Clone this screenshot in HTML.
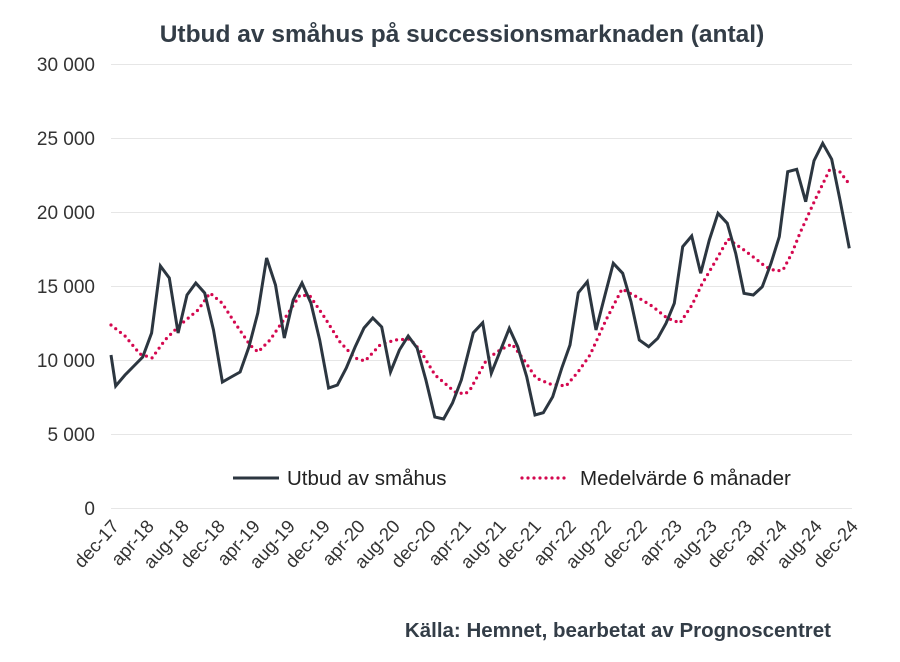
<!DOCTYPE html>
<html><head><meta charset="utf-8"><style>
body{margin:0;background:#fff;font-family:"Liberation Sans",Arial,sans-serif;}
svg text{font-family:"Liberation Sans",Arial,sans-serif;}
</style></head><body>
<svg width="900" height="657" viewBox="0 0 900 657" xmlns="http://www.w3.org/2000/svg">
<rect width="900" height="657" fill="#fff"/>
<text x="462" y="42" text-anchor="middle" font-size="24.5" font-weight="bold" fill="#333d47">Utbud av småhus på successionsmarknaden (antal)</text>
<g stroke="#e6e6e6" stroke-width="1">
<line x1="111" x2="852" y1="64.5" y2="64.5"/><line x1="111" x2="852" y1="138.5" y2="138.5"/><line x1="111" x2="852" y1="212.5" y2="212.5"/><line x1="111" x2="852" y1="286.5" y2="286.5"/><line x1="111" x2="852" y1="360.5" y2="360.5"/><line x1="111" x2="852" y1="434.5" y2="434.5"/><line x1="111" x2="852" y1="508.5" y2="508.5"/>
</g>
<g font-size="19" fill="#333" text-anchor="end">
<text x="95" y="71">30 000</text><text x="95" y="145">25 000</text><text x="95" y="219">20 000</text><text x="95" y="293">15 000</text><text x="95" y="367">10 000</text><text x="95" y="441">5 000</text><text x="95" y="515">0</text>
</g>
<g font-size="18.5" fill="#333" text-anchor="end">
<text transform="translate(120,527) rotate(-48)">dec-17</text>
<text transform="translate(155,527) rotate(-48)">apr-18</text>
<text transform="translate(190,527) rotate(-48)">aug-18</text>
<text transform="translate(226,527) rotate(-48)">dec-18</text>
<text transform="translate(261,527) rotate(-48)">apr-19</text>
<text transform="translate(296,527) rotate(-48)">aug-19</text>
<text transform="translate(331,527) rotate(-48)">dec-19</text>
<text transform="translate(366,527) rotate(-48)">apr-20</text>
<text transform="translate(401,527) rotate(-48)">aug-20</text>
<text transform="translate(437,527) rotate(-48)">dec-20</text>
<text transform="translate(472,527) rotate(-48)">apr-21</text>
<text transform="translate(507,527) rotate(-48)">aug-21</text>
<text transform="translate(542,527) rotate(-48)">dec-21</text>
<text transform="translate(577,527) rotate(-48)">apr-22</text>
<text transform="translate(612,527) rotate(-48)">aug-22</text>
<text transform="translate(648,527) rotate(-48)">dec-22</text>
<text transform="translate(683,527) rotate(-48)">apr-23</text>
<text transform="translate(718,527) rotate(-48)">aug-23</text>
<text transform="translate(753,527) rotate(-48)">dec-23</text>
<text transform="translate(788,527) rotate(-48)">apr-24</text>
<text transform="translate(823,527) rotate(-48)">aug-24</text>
<text transform="translate(859,527) rotate(-48)">dec-24</text>
</g>
<polyline fill="none" stroke="#d4084f" stroke-width="3.2" stroke-linecap="round" stroke-dasharray="0 6" points="111,325 125,336 140,354 152,358 165,340 180,325 198,310 210,293 222,303 235,323 250,345 258,352 270,340 285,318 300,295 310,296 325,318 340,342 355,358 365,361 380,345 395,340 410,339 420,350 435,375 455,392 465,394 470,390 487,359 500,350 512,344 524,360 536,378 550,384 566,386 578,372 590,355 606,320 622,289 637,297 652,306 667,318 680,323 692,305 702,284 715,262 728,239 744,250 756,259 766,267 776,271 783,270 792,253 800,233 815,200 830,169 840,172 850,185"/>
<polyline fill="none" stroke="#2c3640" stroke-width="3" stroke-linejoin="miter" points="111,355 115.7,386 125,375 133.9,366 142.7,357 151.6,333 160.4,266 169.3,278 178.1,333 187,295 195.8,283 204.7,293 213.5,330 222.4,382 231.2,377 240.1,372 248.9,347 257.8,313 266.6,258 275.5,285 284.3,338 293.2,300 302,283 310.9,303 319.7,340 328.6,388 337.4,385 346.3,368 355.1,347 364,328 372.8,318 381.7,327 390.5,372 399.4,350 408.2,336 417.1,348 425.9,380 434.8,417 443.6,419 452.5,403 461.3,380 473.3,332.7 482.7,322.7 491.3,373.3 509.3,328.3 517.7,346.7 526.7,376.7 535,415 543.3,412.7 552.7,396.7 561.7,368.3 570,345 578.3,292.7 587.3,281.7 596,330 605,295 613.3,263.3 622.7,273.3 631,301.7 639.3,340 648.7,346.7 657.7,338.3 666,323.3 674.3,303.3 682.7,246.7 691.7,236 700.7,273.3 709.3,240 718,213.3 727.3,223.3 735.7,253.3 744,293.3 753.3,295 762.3,286.7 771,263.3 779.3,236.7 787.7,171.7 796.7,169.3 805.7,201.7 814,160.7 822.7,143.3 831.7,159.3 840,200 849.3,248.3"/>
<line x1="233" x2="279" y1="478" y2="478" stroke="#2c3640" stroke-width="3"/>
<text x="287" y="485" font-size="20.5" fill="#222">Utbud av småhus</text>
<line x1="522" x2="570" y1="478" y2="478" stroke="#d4084f" stroke-width="3.2" stroke-linecap="round" stroke-dasharray="0 6"/>
<text x="580" y="485" font-size="20.5" fill="#222">Medelvärde 6 månader</text>
<text x="831" y="637" text-anchor="end" font-size="20.5" font-weight="bold" fill="#333d47">Källa: Hemnet, bearbetat av Prognoscentret</text>
</svg>
</body></html>
